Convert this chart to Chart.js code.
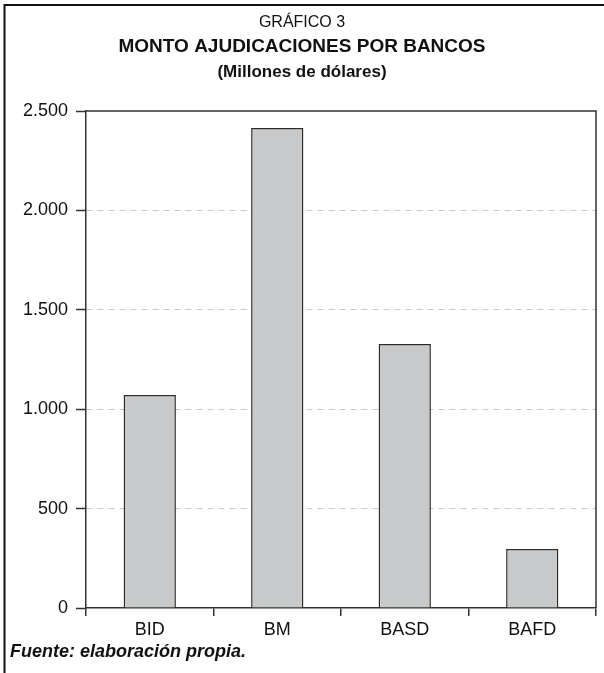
<!DOCTYPE html>
<html>
<head>
<meta charset="utf-8">
<script src="https://cdn.jsdelivr.net/npm/chart.js@4/dist/chart.umd.min.js"></script>
<style>
  html, body { margin: 0; padding: 0; background: #fff; }
  #wrap { width: 604px; height: 673px; position: relative; }
</style>
</head>
<body>
<div id="wrap"><canvas id="barChart" width="604" height="673"></canvas></div>
<script>
// datos del gráfico
var bancos = ["BID", "BM", "BASD", "BAFD"];
var montos = [1072, 2415, 1328, 297];
var ticksY = [0, 500, 1000, 1500, 2000, 2500];

var tituloLineas = ["GRÁFICO 3", "MONTO AJUDICACIONES POR BANCOS", "(Millones de dólares)"];
var fuente = "Fuente: elaboración propia.";

var FONT = "'Liberation Sans', Arial, Helvetica, sans-serif";

function miles(v) {
    return String(v).replace(/\B(?=(\d{3})+(?!\d))/g, ".");
}

// marco, titulo y fuente
var marcoPlugin = {
    id: 'marco',
    afterDraw: function (chart) {
        var c = chart.ctx;
        var a = chart.chartArea;
        c.save();
        // marco exterior
        c.strokeStyle = '#111';
        c.lineWidth = 2;
        c.beginPath();
        c.moveTo(604, 5);
        c.lineTo(4.5, 5);
        c.lineTo(4.5, 673);
        c.stroke();
        // borde superior y derecho del area
        c.strokeStyle = '#333';
        c.lineWidth = 1.5;
        c.beginPath();
        c.moveTo(a.left, a.top);
        c.lineTo(a.right, a.top);
        c.lineTo(a.right, a.bottom);
        c.stroke();

        c.fillStyle = '#111';
        c.textAlign = 'center';
        c.textBaseline = 'middle';
        c.font = '16px ' + FONT;
        c.fillText(tituloLineas[0], 302, 23);
        c.font = 'bold 19px ' + FONT;
        c.fillText(tituloLineas[1], 302, 47);
        c.font = 'bold 17px ' + FONT;
        c.fillText(tituloLineas[2], 302, 72);

        c.textAlign = 'left';
        c.font = 'italic bold 18px ' + FONT;
        c.fillText(fuente, 10, 652);
        c.restore();
    }
};

var ctx = document.getElementById("barChart").getContext("2d");
new Chart(ctx, {
    type: 'bar',
    data: {
        labels: bancos,
        datasets: [{
            data: montos,
            backgroundColor: "#c8c9cb",
            borderColor: "#2a2a2a",
            borderWidth: 1.5,
            barPercentage: 0.41,
            categoryPercentage: 1
        }]
    },
    options: {
        responsive: false,
        animation: false,
        layout: {
            padding: { left: 0, right: 8, top: 111, bottom: 35 }
        },
        plugins: {
            legend: { display: false },
            tooltip: { enabled: false }
        },
        scales: {
            x: {
                grid: {
                    offset: true,
                    drawOnChartArea: false,
                    tickLength: 8,
                    tickColor: '#333',
                    lineWidth: 1.5
                },
                border: { color: '#333', width: 1.5 },
                ticks: {
                    color: '#111',
                    padding: 3,
                    font: { family: FONT, size: 18 }
                },
                afterFit: function (s) { s.height = 30; }
            },
            y: {
                min: 0,
                max: 2500,
                afterBuildTicks: function (s) {
                    s.ticks = ticksY.map(function (v) { return { value: v }; });
                },
                grid: {
                    color: function (c) {
                        var v = c.tick && c.tick.value;
                        return (v === 0 || v === 2500) ? 'rgba(0,0,0,0)' : '#c8c8c8';
                    },
                    lineWidth: 1,
                    tickLength: 10,
                    tickColor: '#333',
                    tickBorderDash: [],
                    tickWidth: 1.5
                },
                border: { color: '#333', width: 1.5, dash: [6, 5] },
                ticks: {
                    color: '#111',
                    padding: 8,
                    font: { family: FONT, size: 18 },
                    callback: function (v) { return miles(v); }
                },
                afterFit: function (s) { s.width = 86; }
            }
        }
    },
    plugins: [marcoPlugin]
});
</script>
</body>
</html>
